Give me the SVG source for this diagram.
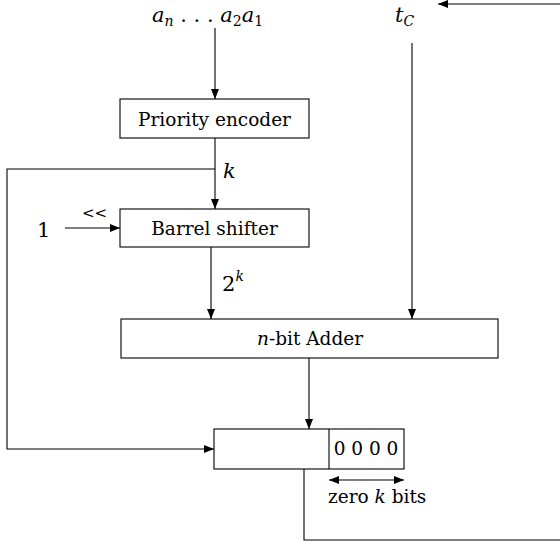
<svg xmlns="http://www.w3.org/2000/svg" width="560" height="544" viewBox="0 0 560 544">
<defs>
<style>
.box{fill:#fff;stroke:#000;stroke-width:1.1}
.ln{fill:none;stroke:#000;stroke-width:1.1}
.t{font-family:"DejaVu Serif","Liberation Serif",serif;font-size:18.5px;fill:#000}
.m{font-size:21px}
.i{font-style:italic}
.s{font-size:14px}
</style>
<marker id="ah" viewBox="0 0 10 10" refX="10" refY="5" markerWidth="10" markerHeight="10" markerUnits="userSpaceOnUse" orient="auto">
<path d="M0,1 L10,5 L0,9 Z" fill="#000"/>
</marker>
<marker id="as" viewBox="0 0 10 10" refX="0" refY="5" markerWidth="10" markerHeight="10" markerUnits="userSpaceOnUse" orient="auto">
<path d="M10,1 L0,5 L10,9 Z" fill="#000"/>
</marker>
</defs>
<rect width="560" height="544" fill="#fff"/>

<g id="connectors">
<path class="ln" d="M215,28 V99" marker-end="url(#ah)"/>
<path class="ln" d="M215,138 V209" marker-end="url(#ah)"/>
<path class="ln" d="M215,169 H7 V449 H214" marker-end="url(#ah)"/>
<path class="ln" d="M65,228 H120" marker-end="url(#ah)"/>
<path class="ln" d="M211,247 V319" marker-end="url(#ah)"/>
<path class="ln" d="M412,43 V319" marker-end="url(#ah)"/>
<path class="ln" d="M309,358 V429" marker-end="url(#ah)"/>
<path class="ln" d="M304,469 V540 H562"/>
<path class="ln" d="M562,4 H438" marker-end="url(#ah)"/>
<path class="ln" d="M329,480 H404" marker-start="url(#as)" marker-end="url(#ah)"/>
</g>

<g id="inputs">
<text class="t m" x="152" y="22"><tspan class="i">a</tspan><tspan class="i s" dy="4">n</tspan><tspan dy="-4"> . . . </tspan><tspan class="i">a</tspan><tspan class="s" dy="4">2</tspan><tspan class="i" dy="-4">a</tspan><tspan class="s" dy="4">1</tspan></text>
<text class="t m" x="395" y="22"><tspan class="i">t</tspan><tspan class="i s" dy="4">C</tspan></text>
</g>

<g id="priority-encoder">
<rect class="box" x="120" y="99" width="189" height="39"/>
<text class="t" x="214.5" y="125.5" text-anchor="middle">Priority encoder</text>
</g>

<g id="k-label">
<text class="t i m" x="223" y="178">k</text>
</g>

<g id="barrel-shifter">
<rect class="box" x="120" y="209" width="189" height="38"/>
<text class="t" x="214.5" y="235" text-anchor="middle">Barrel shifter</text>
<text class="t m" x="37" y="237">1</text>
<text class="t" x="82" y="218" style="font-size:15px">&lt;&lt;</text>
</g>

<g id="pow-label">
<text class="t m" x="222" y="291">2<tspan class="i s" dy="-10">k</tspan></text>
</g>

<g id="adder">
<rect class="box" x="121" y="319" width="377" height="39"/>
<text class="t" x="310" y="345" text-anchor="middle"><tspan class="i">n</tspan>-bit Adder</text>
</g>

<g id="register">
<rect class="box" x="214" y="429" width="190" height="40"/>
<path class="ln" d="M329,429 V469"/>
<text class="t" x="366" y="455" text-anchor="middle">0 0 0 0</text>
<text class="t" x="328" y="503">zero <tspan class="i">k</tspan> bits</text>
</g>
</svg>
